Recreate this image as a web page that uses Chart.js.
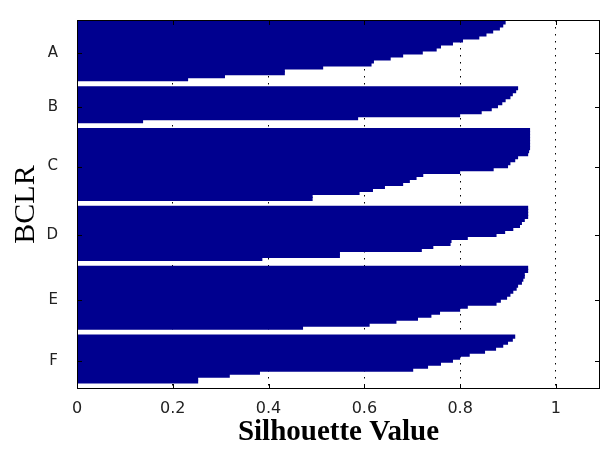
<!DOCTYPE html>
<html>
<head>
<meta charset="utf-8">
<script src="https://cdn.jsdelivr.net/npm/chart.js@4/dist/chart.umd.min.js"></script>
<style>
  body { margin: 0; background: #fff; }
  canvas { display: block; }
</style>
</head>
<body>
<canvas id="silChart" width="601" height="450"></canvas>
<script>
// cluster names and silhouette values per point (sorted, top to bottom)
const clusterNames = ['A', 'B', 'C', 'D', 'E', 'F'];

const silA = [0.895, 0.89, 0.883, 0.869, 0.855, 0.84, 0.806, 0.785, 0.76, 0.751,
              0.722, 0.681, 0.655, 0.62, 0.615, 0.514, 0.434, 0.434, 0.309, 0.232];
const silB = [0.921, 0.917, 0.91, 0.905, 0.895, 0.888, 0.879, 0.866, 0.845, 0.8,
              0.587, 0.138];
const silC = [0.946, 0.946, 0.946, 0.946, 0.946, 0.946, 0.946, 0.944, 0.942, 0.921,
              0.915, 0.905, 0.9, 0.87, 0.8, 0.723, 0.709, 0.695, 0.681, 0.643,
              0.618, 0.59, 0.492, 0.492];
const silD = [0.942, 0.942, 0.942, 0.942, 0.935, 0.929, 0.925, 0.911, 0.894, 0.876,
              0.816, 0.782, 0.78, 0.744, 0.72, 0.549, 0.549, 0.387];
const silE = [0.942, 0.942, 0.935, 0.935, 0.932, 0.929, 0.921, 0.918, 0.911, 0.905,
              0.898, 0.885, 0.876, 0.816, 0.8, 0.758, 0.74, 0.712, 0.667, 0.611,
              0.472];
const silF = [0.915, 0.91, 0.9, 0.89, 0.875, 0.852, 0.82, 0.8, 0.785, 0.76,
              0.733, 0.702, 0.382, 0.319, 0.253, 0.253];

const xTicks = [0, 0.2, 0.4, 0.6, 0.8, 1];

const clusters = [silA, silB, silC, silD, silE, silF];
const GAP = 2; // empty rows between clusters

// build bar rows and label positions
const rows = [];
const labelPos = [];
let row = 0;
clusters.forEach((vals, ci) => {
    const start = row;
    vals.forEach(v => {
        rows.push({ x: v, y: row });
        row++;
    });
    labelPos.push({ pos: (start + row - 1) / 2, name: clusterNames[ci] });
    row += GAP;
});

const frameAndTicks = {
    id: 'frameAndTicks',
    afterDatasetsDraw(chart) {
        const { ctx, chartArea: a, scales } = chart;
        ctx.save();
        ctx.strokeStyle = '#000';
        ctx.lineWidth = 1;
        ctx.strokeRect(a.left + 0.5, a.top + 0.5, a.right - a.left - 1, a.bottom - a.top - 1);
        ctx.beginPath();
        xTicks.slice(1).forEach(t => {
            const px = Math.round(scales.x.getPixelForValue(t)) + 0.5;
            ctx.moveTo(px, a.top);
            ctx.lineTo(px, a.top + 5);
            ctx.moveTo(px, a.bottom);
            ctx.lineTo(px, a.bottom - 5);
        });
        labelPos.forEach(l => {
            const py = Math.round(scales.y.getPixelForValue(l.pos)) + 2.5;
            ctx.moveTo(a.left, py);
            ctx.lineTo(a.left + 5, py);
            ctx.moveTo(a.right, py);
            ctx.lineTo(a.right - 5, py);
        });
        ctx.stroke();
        ctx.restore();
    }
};

new Chart(document.getElementById('silChart'), {
    type: 'bar',
    data: {
        datasets: [{
            data: rows,
            backgroundColor: '#00008F',
            borderWidth: 0,
            barPercentage: 1.4,
            categoryPercentage: 1
        }]
    },
    options: {
        indexAxis: 'y',
        responsive: false,
        animation: false,
        layout: { padding: { top: 19, right: 1, left: 0, bottom: 0 } },
        plugins: {
            legend: { display: false },
            tooltip: { enabled: false }
        },
        scales: {
            x: {
                type: 'linear',
                min: 0,
                max: 1.092,
                afterFit: s => { s.height = 61; },
                afterBuildTicks: s => { s.ticks = xTicks.map(v => ({ value: v })); },
                ticks: {
                    padding: 10,
                    color: '#222',
                    font: { family: 'DejaVu Sans', size: 16 },
                    callback: v => String(v)
                },
                grid: {
                    drawTicks: false,
                    color: ctx => ctx.tick && ctx.tick.value === 0 ? 'rgba(0,0,0,0)' : '#000',
                    lineWidth: 1
                },
                border: { display: false, dash: [1.5, 5.5] },
                title: {
                    display: true,
                    text: 'Silhouette Value',
                    color: '#000',
                    font: { family: 'Liberation Serif', size: 29, weight: 'bold' },
                    padding: { top: 0, bottom: 0 }
                }
            },
            y: {
                type: 'linear',
                reverse: true,
                offset: false,
                min: -0.8,
                max: row - GAP + 1.5,
                afterFit: s => { s.width = 77; },
                afterBuildTicks: s => { s.ticks = labelPos.map(l => ({ value: l.pos })); },
                ticks: {
                    padding: 11,
                    labelOffset: 2,
                    color: '#222',
                    font: { family: 'DejaVu Sans', size: 15 },
                    callback: v => {
                        const l = labelPos.find(p => Math.abs(p.pos - v) < 0.01);
                        return l ? l.name : '';
                    }
                },
                grid: { display: false, offset: false },
                border: { display: false },
                title: {
                    display: true,
                    text: 'BCLR',
                    color: '#000',
                    font: { family: 'Liberation Serif', size: 30 },
                    padding: { top: 8, bottom: 0 }
                }
            }
        }
    },
    plugins: [frameAndTicks]
});
</script>
</body>
</html>
